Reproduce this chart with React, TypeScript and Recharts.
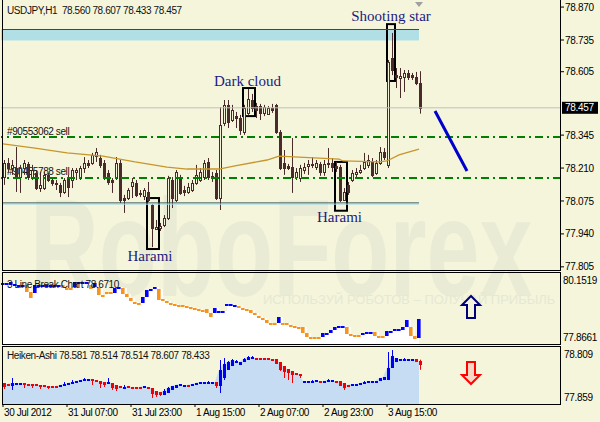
import React from "react"
import {
  ComposedChart,
  Bar,
  Line,
  Area,
  XAxis,
  YAxis,
  ReferenceLine,
  ReferenceArea,
  ReferenceDot,
} from "recharts"

// USDJPY H1 candles, 30 Jul 15:00 .. 3 Aug 23:00
const opens = [
  78.173, 78.231, 78.21, 78.21, 78.173, 78.21, 78.227, 78.173, 78.19, 78.128,
  78.128, 78.182, 78.161, 78.149, 78.141, 78.112, 78.173, 78.161, 78.194, 78.169,
  78.21, 78.231, 78.231, 78.259, 78.251, 78.231, 78.19, 78.161, 78.169, 78.231,
  78.087, 78.087, 78.137, 78.149, 78.108, 78.095, 78.112, 78.058, 77.96, 77.964,
  77.977, 78.005, 78.161, 78.079, 78.169, 78.12, 78.112, 78.12, 78.149, 78.161,
  78.173, 78.235, 78.178, 78.19, 78.087, 78.395, 78.469, 78.407, 78.423, 78.415,
  78.358, 78.436, 78.489, 78.464, 78.464, 78.436, 78.432, 78.456, 78.469, 78.358,
  78.231, 78.219, 78.214, 78.173, 78.169, 78.202, 78.219, 78.227, 78.214, 78.227,
  78.194, 78.227, 78.231, 78.219, 78.214, 78.079, 78.141, 78.161, 78.186, 78.194,
  78.21, 78.223, 78.235, 78.19, 78.231, 78.276, 78.223, 78.661, 78.591, 78.579,
  78.583, 78.6, 78.591, 78.583, 78.56,
]
const highs = [
  78.243, 78.251, 78.243, 78.296, 78.223, 78.243, 78.235, 78.223, 78.202, 78.194,
  78.194, 78.19, 78.169, 78.161, 78.149, 78.169, 78.182, 78.21, 78.21, 78.219,
  78.255, 78.243, 78.272, 78.292, 78.264, 78.243, 78.202, 78.169, 78.255, 78.243,
  78.1, 78.128, 78.169, 78.161, 78.12, 78.128, 78.153, 78.063, 77.997, 77.985,
  78.017, 78.178, 78.173, 78.202, 78.182, 78.137, 78.149, 78.161, 78.223, 78.21,
  78.243, 78.251, 78.194, 78.202, 78.46, 78.489, 78.489, 78.469, 78.44, 78.428,
  78.469, 78.534, 78.514, 78.477, 78.473, 78.469, 78.464, 78.473, 78.473, 78.366,
  78.284, 78.227, 78.333, 78.21, 78.223, 78.231, 78.243, 78.255, 78.243, 78.235,
  78.243, 78.292, 78.251, 78.235, 78.223, 78.128, 78.153, 78.202, 78.21, 78.223,
  78.272, 78.264, 78.251, 78.243, 78.296, 78.292, 78.653, 78.764, 78.62, 78.62,
  78.612, 78.612, 78.6, 78.604, 78.607,
]
const lows = [
  78.141, 78.194, 78.182, 78.112, 78.108, 78.182, 78.161, 78.161, 78.12, 78.112,
  78.12, 78.153, 78.137, 78.12, 78.091, 78.104, 78.091, 78.128, 78.161, 78.161,
  78.19, 78.21, 78.223, 78.235, 78.21, 78.161, 78.141, 78.108, 78.161, 78.067,
  78.026, 78.079, 78.087, 78.091, 78.091, 78.079, 78.071, 77.886, 77.956, 77.952,
  77.968, 77.997, 78.046, 78.071, 78.1, 78.095, 78.104, 78.112, 78.141, 78.153,
  78.161, 78.161, 78.153, 78.079, 78.038, 78.382, 78.374, 78.399, 78.374, 78.346,
  78.346, 78.428, 78.44, 78.415, 78.407, 78.423, 78.428, 78.436, 78.35, 78.202,
  78.182, 78.202, 78.108, 78.161, 78.153, 78.186, 78.182, 78.21, 78.202, 78.178,
  78.178, 78.21, 78.194, 78.194, 78.071, 78.075, 78.1, 78.153, 78.169, 78.186,
  78.202, 78.21, 78.173, 78.182, 78.223, 78.243, 78.21, 78.591, 78.538, 78.497,
  78.522, 78.571, 78.571, 78.55, 78.433,
]
const closes = [
  78.231, 78.21, 78.223, 78.173, 78.21, 78.231, 78.173, 78.202, 78.128, 78.141,
  78.182, 78.161, 78.149, 78.145, 78.112, 78.161, 78.132, 78.202, 78.202, 78.21,
  78.231, 78.223, 78.264, 78.276, 78.223, 78.173, 78.153, 78.153, 78.231, 78.079,
  78.079, 78.12, 78.153, 78.1, 78.104, 78.12, 78.079, 77.964, 77.968, 77.972,
  78.005, 78.169, 78.087, 78.194, 78.108, 78.112, 78.132, 78.149, 78.182, 78.194,
  78.231, 78.173, 78.169, 78.087, 78.386, 78.469, 78.399, 78.448, 78.415, 78.366,
  78.456, 78.493, 78.456, 78.448, 78.436, 78.46, 78.456, 78.448, 78.358, 78.21,
  78.21, 78.21, 78.173, 78.194, 78.21, 78.214, 78.227, 78.223, 78.231, 78.194,
  78.227, 78.231, 78.214, 78.21, 78.079, 78.112, 78.112, 78.19, 78.194, 78.202,
  78.235, 78.243, 78.182, 78.231, 78.276, 78.255, 78.645, 78.612, 78.583, 78.587,
  78.6, 78.583, 78.583, 78.559, 78.457,
]

// moving average, read at these bars
const maBars = [0, 8, 16, 25, 33, 41, 46, 54, 58, 66, 69, 74, 84, 85, 94, 96, 99, 104]
const maValues = [
  78.309, 78.292, 78.272, 78.259, 78.235, 78.214, 78.206, 78.206, 78.219, 78.243,
  78.259, 78.255, 78.247, 78.239, 78.235, 78.239, 78.264, 78.288,
]

// 3 Line Break bricks
const lbHigh = [
  80.032, 80.032, 80.072, 79.992, 79.951, 79.951, 79.951, 79.671, 79.951, 79.951,
  79.951, 79.951, 79.951, 79.951, 79.951, 79.951, 79.831, 79.831, 80.072, 80.072,
  80.072, 80.072, 79.951, 80.032, 79.871, 79.55, 79.671, 79.671, 79.831, 79.871,
  79.831, 79.591, 79.43, 79.27, 79.23, 79.47, 79.751, 79.791, 79.871, 79.791,
  79.39, 79.31, 79.23, 79.19, 79.149, 79.149, 79.109, 79.069, 79.029, 78.989,
  78.949, 78.989, 78.829, 79.029, 78.909, 78.909, 79.19, 79.19, 79.149, 79.109,
  79.029, 78.989, 78.949, 78.829, 78.708, 78.628, 78.548, 78.428, 78.428, 78.668,
  78.428, 78.428, 78.348, 78.307, 78.267, 78.267, 78.027, 77.866, 77.866, 77.866,
  78.027, 78.027, 78.147, 78.267, 78.307, 78.307, 78.267, 77.987, 77.947, 77.947,
  78.027, 78.067, 78.067, 78.067, 77.906, 77.906, 78.107, 78.107, 78.187, 78.187,
  78.267, 78.548, 78.267, 77.906, 78.588,
]
const lbLow = [
  80.032, 80.032, 79.951, 79.992, 79.951, 79.951, 79.671, 79.43, 79.631, 79.951,
  79.951, 79.951, 79.951, 79.951, 79.951, 79.831, 79.831, 79.831, 79.871, 80.072,
  80.072, 80.072, 79.791, 79.871, 79.55, 79.55, 79.671, 79.591, 79.631, 79.871,
  79.591, 79.47, 79.31, 79.19, 79.23, 79.23, 79.47, 79.791, 79.871, 79.35,
  79.31, 79.27, 79.19, 79.149, 79.149, 79.149, 79.069, 79.029, 79.029, 78.949,
  78.949, 78.829, 78.668, 78.829, 78.869, 78.909, 79.109, 79.149, 79.149, 79.069,
  78.989, 78.989, 78.829, 78.748, 78.668, 78.548, 78.428, 78.428, 78.428, 78.428,
  78.428, 78.428, 78.267, 78.307, 78.227, 78.027, 77.866, 77.866, 77.866, 77.826,
  77.866, 78.027, 78.027, 78.147, 78.267, 78.307, 77.987, 77.947, 77.947, 77.947,
  78.027, 78.027, 78.067, 77.906, 77.906, 77.866, 77.906, 78.107, 78.107, 78.187,
  78.147, 78.267, 77.906, 77.786, 77.826,
]
const lbUp = [
  1, 1, 1, 1, 1, 1, 0, 0, 1, 1,
  1, 1, 1, 1, 1, 0, 0, 0, 1, 1,
  1, 1, 0, 1, 0, 0, 0, 0, 1, 1,
  0, 0, 0, 0, 0, 1, 1, 1, 1, 0,
  0, 0, 0, 0, 0, 0, 0, 0, 0, 0,
  0, 0, 0, 1, 1, 1, 1, 1, 1, 0,
  0, 0, 0, 0, 0, 0, 0, 0, 0, 1,
  0, 0, 0, 0, 0, 0, 0, 0, 0, 0,
  1, 1, 1, 1, 1, 1, 0, 0, 0, 0,
  1, 1, 1, 0, 0, 0, 1, 1, 1, 1,
  1, 1, 0, 0, 1,
]

// Heiken-Ashi
const haOpen = [
  78.205, 78.187, 78.153, 78.187, 78.187, 78.205, 78.187, 78.187, 78.187, 78.17,
  78.17, 78.153, 78.153, 78.153, 78.153, 78.17, 78.17, 78.205, 78.205, 78.222,
  78.239, 78.256, 78.274, 78.256, 78.239, 78.222, 78.205, 78.205, 78.17, 78.153,
  78.118, 78.153, 78.136, 78.136, 78.136, 78.118, 78.136, 78.118, 78.066, 78.049,
  77.997, 78.032, 78.084, 78.118, 78.153, 78.153, 78.17, 78.153, 78.17, 78.187,
  78.205, 78.205, 78.205, 78.222, 78.153, 78.291, 78.429, 78.498, 78.55, 78.515,
  78.567, 78.602, 78.619, 78.636, 78.636, 78.636, 78.636, 78.619, 78.619, 78.567,
  78.498, 78.446, 78.412, 78.377, 78.36, 78.222, 78.222, 78.222, 78.222, 78.239,
  78.222, 78.239, 78.239, 78.239, 78.239, 78.205, 78.17, 78.153, 78.17, 78.187,
  78.187, 78.205, 78.222, 78.222, 78.239, 78.256, 78.256, 78.464, 78.567, 78.602,
  78.602, 78.602, 78.602, 78.619, 78.581,
]
const haClose = [
  78.136, 78.153, 78.205, 78.205, 78.205, 78.17, 78.153, 78.17, 78.17, 78.136,
  78.153, 78.136, 78.136, 78.136, 78.17, 78.187, 78.205, 78.222, 78.239, 78.256,
  78.274, 78.274, 78.239, 78.222, 78.187, 78.17, 78.222, 78.118, 78.101, 78.118,
  78.136, 78.118, 78.118, 78.118, 78.118, 78.153, 78.101, 78.015, 77.997, 77.997,
  78.066, 78.118, 78.153, 78.17, 78.187, 78.17, 78.153, 78.187, 78.205, 78.222,
  78.222, 78.222, 78.222, 78.153, 78.429, 78.533, 78.567, 78.602, 78.584, 78.567,
  78.619, 78.654, 78.654, 78.619, 78.619, 78.619, 78.619, 78.602, 78.533, 78.429,
  78.394, 78.377, 78.343, 78.36, 78.325, 78.239, 78.239, 78.239, 78.256, 78.222,
  78.239, 78.256, 78.256, 78.222, 78.153, 78.118, 78.153, 78.187, 78.187, 78.205,
  78.222, 78.239, 78.239, 78.239, 78.291, 78.308, 78.464, 78.671, 78.636, 78.619,
  78.619, 78.619, 78.619, 78.567, 78.514,
]
const haHigh = [
  78.205, 78.187, 78.291, 78.205, 78.205, 78.205, 78.187, 78.187, 78.187, 78.17,
  78.17, 78.153, 78.153, 78.153, 78.17, 78.222, 78.205, 78.256, 78.239, 78.256,
  78.291, 78.274, 78.274, 78.256, 78.239, 78.222, 78.291, 78.205, 78.17, 78.153,
  78.17, 78.153, 78.136, 78.136, 78.136, 78.153, 78.136, 78.118, 78.066, 78.049,
  78.101, 78.136, 78.153, 78.17, 78.187, 78.17, 78.17, 78.187, 78.205, 78.222,
  78.222, 78.239, 78.222, 78.222, 78.602, 78.636, 78.584, 78.619, 78.602, 78.567,
  78.636, 78.671, 78.671, 78.636, 78.636, 78.636, 78.636, 78.619, 78.619, 78.567,
  78.498, 78.446, 78.412, 78.377, 78.36, 78.239, 78.239, 78.256, 78.256, 78.239,
  78.239, 78.274, 78.256, 78.239, 78.239, 78.205, 78.17, 78.187, 78.187, 78.205,
  78.239, 78.239, 78.239, 78.239, 78.291, 78.308, 78.74, 78.774, 78.636, 78.619,
  78.636, 78.619, 78.619, 78.619, 78.607,
]
const haLow = [
  78.101, 78.153, 78.084, 78.187, 78.187, 78.118, 78.153, 78.118, 78.17, 78.101,
  78.153, 78.101, 78.136, 78.136, 78.153, 78.17, 78.17, 78.205, 78.205, 78.222,
  78.239, 78.256, 78.17, 78.222, 78.118, 78.136, 78.205, 78.084, 78.066, 78.118,
  78.118, 78.118, 78.118, 78.118, 78.118, 78.118, 78.101, 77.946, 77.963, 77.98,
  77.997, 78.032, 78.084, 78.118, 78.153, 78.153, 78.153, 78.153, 78.17, 78.187,
  78.205, 78.205, 78.205, 78.118, 78.032, 78.256, 78.429, 78.498, 78.55, 78.515,
  78.567, 78.602, 78.619, 78.619, 78.619, 78.619, 78.619, 78.602, 78.533, 78.412,
  78.291, 78.256, 78.205, 78.36, 78.291, 78.222, 78.222, 78.222, 78.222, 78.222,
  78.222, 78.239, 78.239, 78.222, 78.153, 78.084, 78.153, 78.153, 78.17, 78.187,
  78.187, 78.205, 78.222, 78.222, 78.239, 78.256, 78.256, 78.464, 78.567, 78.602,
  78.602, 78.602, 78.602, 78.567, 78.433,
]

const priceTicks = [78.87, 78.735, 78.605, 78.345, 78.21, 78.075, 77.94, 77.805]
const lbTicks = [80.1519, 77.8661]
const haTicks = [78.809, 77.859]
const timeTicks = [0, 16, 32, 48, 64, 80, 96]
const timeLabels = [
  "30 Jul 2012",
  "31 Jul 07:00",
  "31 Jul 23:00",
  "1 Aug 15:00",
  "2 Aug 07:00",
  "2 Aug 23:00",
  "3 Aug 15:00",
]

const SLOTS = 140
const FONT = "'Liberation Sans', Arial, sans-serif"
const SERIF = "'Liberation Serif', 'Times New Roman', serif"
const BG = "#F5F5DC"
const CANDLE = "#4A2B2B"
const NAVY = "#1b1b80"

const rows = Array.from({ length: SLOTS }, (_, i) => {
  if (i >= opens.length) return { i }
  const m = maBars.indexOf(i)
  return {
    i,
    o: opens[i],
    h: highs[i],
    l: lows[i],
    c: closes[i],
    range: [lows[i], highs[i]],
    ma: m >= 0 ? maValues[m] : null,
    lb: [lbLow[i], lbHigh[i]],
    lbHi: lbHigh[i],
    lbUp: lbUp[i],
    ha: [haLow[i], haHigh[i]],
    hao: haOpen[i],
    hac: haClose[i],
    haTop: Math.max(haOpen[i], haClose[i]),
  }
})

const CandleShape = (p: any) => {
  const { x, y, width, height, payload } = p
  if (!payload || payload.o == null) return <g />
  const top = Math.min(y, y + height)
  const bot = Math.max(y, y + height)
  const { o, h, l, c } = payload
  const k = h > l ? (bot - top) / (h - l) : 0
  const py = (v: number) => top + (h - v) * k
  const col = Math.round(x + width / 2)
  const bt = Math.round(py(Math.max(o, c))) + 0.5
  const bb = Math.round(py(Math.min(o, c))) + 0.5
  const bull = c >= o
  return (
    <g>
      <line x1={col + 0.5} x2={col + 0.5} y1={top} y2={bot} stroke={CANDLE} />
      <rect
        x={col - 0.5}
        y={bt}
        width={2}
        height={Math.max(bb - bt, 1)}
        fill={bull ? BG : CANDLE}
        stroke={CANDLE}
      />
    </g>
  )
}

const HaShape = (p: any) => {
  const { x, y, width, height, payload } = p
  if (!payload || payload.hao == null) return <g />
  const top = Math.min(y, y + height)
  const bot = Math.max(y, y + height)
  const [l, h] = payload.ha
  const k = h > l ? (bot - top) / (h - l) : 0
  const py = (v: number) => top + (h - v) * k
  const col = Math.round(x + width / 2)
  const color = payload.hac >= payload.hao ? "#0000F0" : "#F00000"
  const bt = Math.round(py(Math.max(payload.hao, payload.hac)))
  const bb = Math.round(py(Math.min(payload.hao, payload.hac)))
  return (
    <g>
      <line x1={col + 0.5} x2={col + 0.5} y1={top} y2={bot} stroke={color} />
      <rect x={col - 1} y={bt} width={3} height={Math.max(bb - bt, 2)} fill={color} />
    </g>
  )
}

const BrickShape = (p: any) => {
  const { x, y, width, height, payload } = p
  if (!payload || payload.lbHi == null) return <g />
  const top = Math.round(Math.min(y, y + height))
  const hgt = Math.max(Math.round(Math.abs(height)), 2)
  return <rect x={x} y={top} width={width} height={hgt} fill={payload.lbUp ? "#0000FF" : "#F7941D"} />
}

const BandShape = (p: any) => (
  <rect x={p.x} y={p.y} width={p.width - 2} height={p.height} fill="#B0E0E6" />
)

const BoxShape = (p: any) => (
  <rect x={p.x - 2} y={p.y} width={p.width} height={p.height} fill="none" stroke="#000" strokeWidth={2} />
)

const note = (text: string, where: "top" | "bottom", gap: number, dx: number) => ({
  content: (p: any) => {
    const vb = p.viewBox
    const x = vb.x + vb.width / 2 - 2 + dx
    const y = where === "top" ? vb.y - gap : vb.y + vb.height + gap
    return (
      <text x={x} y={y} textAnchor="middle" fontFamily={SERIF} fontSize={15} fill={NAVY}>
        {text}
      </text>
    )
  },
})

const PriceTag = (p: any) => {
  const vb = p.viewBox
  const x = vb.x + vb.width + 1
  return (
    <g>
      <rect x={x} y={vb.y - 6} width={36} height={12} fill="#000" />
      <text x={x + 3} y={vb.y} dy="0.355em" fill="#fff" fontSize={10} fontFamily={FONT} letterSpacing={-0.3}>
        {closes[closes.length - 1].toFixed(3)}
      </text>
    </g>
  )
}

const ShiftMark = (p: any) => (
  <polygon points={`${p.cx - 4},${p.cy - 2} ${p.cx + 4},${p.cy - 2} ${p.cx},${p.cy + 3}`} fill="#A0A0A0" />
)

const arrowPts = (cx: number, cy: number, dir: number) =>
  [
    [0, -11], [9, -2], [4, -2], [4, 11], [-4, 11], [-4, -2], [-9, -2],
  ]
    .map(([dx, dy]) => `${cx + dx},${cy + dy * dir}`)
    .join(" ")

const UpArrow = (p: any) => (
  <polygon points={arrowPts(p.cx, p.cy, 1)} fill={BG} stroke="#00007A" strokeWidth={2} />
)
const DownArrow = (p: any) => (
  <polygon points={arrowPts(p.cx, p.cy, -1)} fill="#F7D6C6" stroke="#FF0000" strokeWidth={2} />
)

const HaTick = (p: any) => {
  const v = p.payload.value
  return (
    <text x={p.x} y={p.y + (v > 78.3 ? 6 : -6)} dy="0.355em" fontSize={10} fontFamily={FONT} fill="#000" letterSpacing={-0.3}>
      {v.toFixed(3)}
    </text>
  )
}

const TimeTick = (p: any) => {
  const k = timeTicks.indexOf(p.payload.value)
  return (
    <text x={p.x + 1} y={p.y} dy="0.71em" fontSize={10} fontFamily={FONT} fill="#000" letterSpacing={-0.4}>
      {k >= 0 ? timeLabels[k] : ""}
    </text>
  )
}

const axisTick = { fontSize: 10, fill: "#000", fontFamily: FONT, letterSpacing: -0.3 }

const label = (top: number, text: string) => (
  <div
    style={{
      position: "absolute",
      left: 7,
      top,
      fontFamily: FONT,
      fontSize: 10,
      lineHeight: "12px",
      letterSpacing: -0.4,
      whiteSpace: "pre",
      color: "#111",
    }}
  >
    {text}
  </div>
)

const frame = (top: number, height: number) => (
  <div
    style={{
      position: "absolute",
      left: 2,
      top,
      width: 559,
      height,
      border: "1px solid #000",
      boxSizing: "border-box",
      pointerEvents: "none",
    }}
  />
)

export default function App() {
  const margin = { top: 0, right: 0, bottom: 0, left: 1 }
  return (
    <div
      style={{
        position: "fixed",
        left: 0,
        top: 0,
        width: 600,
        height: 422,
        background: BG,
        overflow: "hidden",
      }}
    >
      {/* watermark */}
      <div
        style={{
          position: "absolute",
          left: 30,
          top: 178,
          fontFamily: FONT,
          fontWeight: "bold",
          fontSize: 140,
          lineHeight: "140px",
          color: "#EAEBD5",
          transform: "scaleX(0.68)",
          transformOrigin: "left top",
          whiteSpace: "nowrap",
        }}
      >
        RoboForex
      </div>
      <div
        style={{
          position: "absolute",
          left: 263,
          top: 293,
          fontFamily: FONT,
          fontSize: 13,
          lineHeight: "14px",
          color: "#E6E8D2",
          whiteSpace: "nowrap",
        }}
      >
        ИСПОЛЬЗУЙ РОБОТОВ – ПОЛУЧАЙ ПРИБЫЛЬ
      </div>

      {label(5, "USDJPY,H1  78.560 78.607 78.433 78.457")}
      {label(126, "#90553062 sell")}
      {label(166, "#90455788 sell")}

      <div style={{ position: "absolute", left: 0, top: 0 }}>
        <ComposedChart
          width={600}
          height={273}
          data={rows}
          margin={{ top: 0, right: 0, bottom: 3, left: 1 }}
          barCategoryGap={0}
          barGap={0}
        >
          <XAxis dataKey="i" hide />
          <YAxis
            orientation="right"
            width={39}
            domain={[77.792, 78.899]}
            ticks={priceTicks}
            interval={0}
            allowDataOverflow
            tickFormatter={(v: number) => v.toFixed(3)}
            axisLine={false}
            tickLine={{ stroke: "#000" }}
            tickSize={3}
            tickMargin={1}
            tick={axisTick}
          />
          <ReferenceArea x1={0} x2={104} y1={78.733} y2={78.778} shape={BandShape} />
          <ReferenceLine segment={[{ x: 0, y: 78.778 }, { x: 104, y: 78.778 }]} stroke="#2F4F4F" />
          <ReferenceLine y={78.457} stroke="#C0C0C0" label={{ content: PriceTag }} />
          <ReferenceLine y={78.337} stroke="#008000" strokeWidth={2} strokeDasharray="8 4 2 4" />
          <ReferenceLine y={78.169} stroke="#008000" strokeWidth={2} strokeDasharray="8 4 2 4" />
          <ReferenceLine segment={[{ x: 0, y: 78.067 }, { x: 104, y: 78.067 }]} stroke="#2F4F4F" />
          <ReferenceLine segment={[{ x: 0, y: 78.062 }, { x: 104, y: 78.062 }]} stroke="#A8DCE8" />
          <Line
            dataKey="ma"
            type="linear"
            stroke="#C8952A"
            strokeWidth={1.3}
            dot={false}
            activeDot={false}
            connectNulls
            isAnimationActive={false}
          />
          <Bar dataKey="range" barSize={3} shape={CandleShape} isAnimationActive={false} />
          <ReferenceArea x1={61} x2={63} y1={78.423} y2={78.538} shape={BoxShape} label={note("Dark cloud", "top", 2, -1.5)} />
          <ReferenceArea x1={97} x2={98} y1={78.567} y2={78.8} shape={BoxShape} label={note("Shooting star", "top", 3, 0)} />
          <ReferenceArea x1={37} x2={39} y1={77.878} y2={78.087} shape={BoxShape} label={note("Harami", "bottom", 12, -3)} />
          <ReferenceArea x1={84} x2={86} y1={78.035} y2={78.235} shape={BoxShape} label={note("Harami", "bottom", 11, -1.5)} />
          <ReferenceLine segment={[{ x: 108, y: 78.444 }, { x: 116, y: 78.198 }]} stroke="#0000CD" strokeWidth={3} />
          <ReferenceDot x={104} y={78.883} shape={ShiftMark} />
        </ComposedChart>
      </div>

      <div style={{ position: "absolute", left: 0, top: 272 }}>
        <ComposedChart width={600} height={72} data={rows} margin={margin} barCategoryGap={0} barGap={0}>
          <XAxis dataKey="i" hide />
          <YAxis
            orientation="right"
            width={39}
            domain={[77.5854, 80.4727]}
            ticks={lbTicks}
            interval={0}
            allowDataOverflow
            tickFormatter={(v: number) => v.toFixed(4)}
            axisLine={false}
            tickLine={false}
            tickSize={1}
            tickMargin={1}
            tick={axisTick}
          />
          <Area
            dataKey="lbHi"
            type="stepAfter"
            baseValue={77.5854}
            stroke="none"
            fill="#FFFFFF"
            fillOpacity={1}
            dot={false}
            activeDot={false}
            isAnimationActive={false}
          />
          <Bar dataKey="lb" barSize={4} shape={BrickShape} isAnimationActive={false} />
          <ReferenceDot x={117} y={79.069} shape={UpArrow} />
        </ComposedChart>
      </div>

      <div style={{ position: "absolute", left: 0, top: 346 }}>
        <ComposedChart width={600} height={76} data={rows} margin={margin} barCategoryGap={0} barGap={0}>
          <XAxis
            dataKey="i"
            ticks={timeTicks}
            interval={0}
            height={18}
            axisLine={false}
            tickLine={{ stroke: "#000" }}
            tickSize={3}
            tickMargin={2}
            tick={TimeTick}
          />
          <YAxis
            orientation="right"
            width={39}
            domain={[77.842, 78.844]}
            ticks={haTicks}
            interval={0}
            allowDataOverflow
            axisLine={false}
            tickLine={false}
            tickSize={2}
            tickMargin={1}
            tick={HaTick}
          />
          <Area
            dataKey="haTop"
            type="linear"
            baseValue={77.842}
            stroke="none"
            fill="#C5DCF2"
            fillOpacity={1}
            dot={false}
            activeDot={false}
            isAnimationActive={false}
          />
          <Bar dataKey="ha" barSize={3} shape={HaShape} isAnimationActive={false} />
          <ReferenceDot x={117} y={78.378} shape={DownArrow} />
        </ComposedChart>
      </div>

      {label(279, "3 Line Break Chart 78.6710")}
      {label(350, "Heiken-Ashi 78.581 78.514 78.514 78.607 78.433")}

      {frame(-1, 272)}
      {frame(272, 73)}
      {frame(346, 59)}
    </div>
  )
}
